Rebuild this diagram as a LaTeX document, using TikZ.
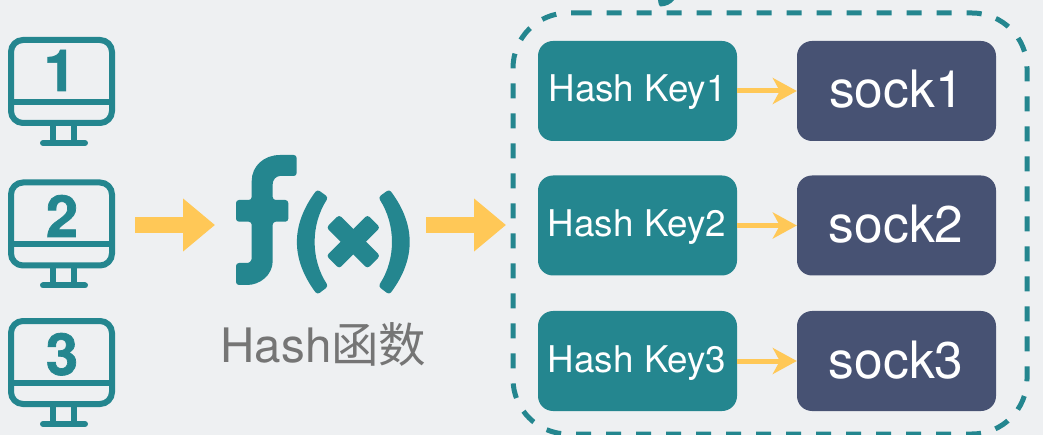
\documentclass[tikz,border=0pt]{standalone}
\usepackage{fontspec}
\setmainfont{TeX Gyre Heros}
\newfontfamily\cjkfont{Noto Sans CJK SC}
\newfontfamily\digitfont[FakeBold=1.2]{TeX Gyre Heros Bold}
\usetikzlibrary{arrows.meta}
\definecolor{bgc}{HTML}{EEF0F2}
\definecolor{tealc}{HTML}{24868F}
\definecolor{navyc}{HTML}{475273}
\definecolor{yellowc}{HTML}{FFC857}
\definecolor{grayc}{HTML}{757575}
\tikzset{
  keybox/.style={draw=none,fill=tealc,rounded corners=15pt,minimum width=199pt,minimum height=100pt,inner sep=0pt,text=white,font=\fontsize{36.8}{38}\selectfont,text height=30pt,text depth=8pt},
  sockbox/.style={draw=none,fill=navyc,rounded corners=15pt,minimum width=199pt,minimum height=100pt,inner sep=0pt,text=white,font=\fontsize{51.5}{53}\selectfont,text height=40pt,text depth=6pt},
  thinarrow/.style={draw=yellowc,line width=5pt,-{Stealth[length=24pt,width=26pt,inset=7pt]}},
  blockarrow/.style={draw=yellowc,line width=16pt,-{Triangle[length=32pt,width=51pt]}},
  monline/.style={draw=tealc,line width=6pt},
  digit/.style={anchor=base,inner sep=0pt,text=tealc,font=\fontsize{58}{60}\selectfont\digitfont},
  glyph/.style={fill=tealc,draw=none,rounded corners=3pt},
  pics/monitor/.style={code={
    \draw[monline,rounded corners=12pt] (11,40) rectangle (112,123);
    \draw[monline] (11,102) -- (112,102);
    \draw[monline] (53,123) -- (53,143);
    \draw[monline] (74,123) -- (74,143);
    \draw[monline,line cap=round] (43,143) -- (85,143);
  }}
}
\begin{document}
\begin{tikzpicture}[x=1pt,y=-1pt]
\useasboundingbox (0,0) rectangle (1043,435);
\clip (0,0) rectangle (1043,435);
\fill[bgc] (0,0) rectangle (1043,435);
% monitors
\pic at (0,0) {monitor};
\pic at (0,142.5) {monitor};
\pic at (0,281) {monitor};
\node[digit] (d1) at (60,91) {1};
\node[digit] (d2) at (62,237) {2};
\node[digit] (d3) at (62,375) {3};
% top fragment
\fill[tealc] (658,0) -- (674,0) .. controls (671,4) and (666,6.5) .. (660,6.5) .. controls (659,5) and (658,3) .. (658,0) -- cycle;
% dashed frame
\draw[draw=tealc,line width=5pt,dash pattern=on 15pt off 15pt]
  (576.7,13) -- (972,13) .. controls (1002.4,13) and (1027,37.6) .. (1027,68)
  -- (1027,379) .. controls (1027,409.4) and (1002.4,434) .. (972,434)
  -- (568,434) .. controls (537.6,434) and (513,409.4) .. (513,379)
  -- (513,68) .. controls (513,37.6) and (537.6,13) .. (568,13) -- (576.7,13);
% f(x)
\fill[glyph] (296.7,155) -- (296.7,176) -- (283,176) .. controls (276,176) and (272.7,180) .. (272.7,187) -- (272.7,200) -- (288.3,200) -- (288.3,221.7) -- (272.7,221.7) -- (272.7,258) .. controls (272.7,275) and (260,285) .. (244,285) -- (236,285) -- (236,263) -- (245,263) .. controls (249,263) and (251.7,261) .. (251.7,256) -- (251.7,221.7) -- (236,221.7) -- (236,200) -- (251.7,200) -- (251.7,184) .. controls (251.7,166) and (264,155) .. (283,155) -- cycle;
\fill[glyph] (317.3,189.3) .. controls (290.7,225) and (290.7,259) .. (317.3,294.7) -- (328.3,286.3) .. controls (310.6,259) and (310.6,225) .. (328.3,197.3) -- cycle;
\fill[glyph] (389.3,189.3) .. controls (415.9,225) and (415.9,259) .. (389.3,294.7) -- (378.3,286.3) .. controls (396,259) and (396,225) .. (378.3,197.3) -- cycle;
\fill[glyph,rotate around={45:(353.3,241.7)}] (324.3,232.7) rectangle (382.3,250.7);
\fill[glyph,rotate around={-45:(353.3,241.7)}] (324.3,232.7) rectangle (382.3,250.7);
\node[anchor=base,inner sep=0pt,text=grayc,font=\fontsize{47.5}{48}\selectfont] (hf) at (323.5,362.7) {Hash{\cjkfont 函数}};
% block arrows
\coordinate (a1s) at (135,225);
\coordinate (a1e) at (215,225);
\coordinate (a2s) at (426,225);
\coordinate (a2e) at (506,225);
\draw[blockarrow] (a1s) -- (a1e);
\draw[blockarrow] (a2s) -- (a2e);
% boxes
\node[keybox] (k1) at (637.5,91) {Hash Key1};
\node[keybox] (k2) at (637.5,225.5) {Hash Key2\hspace*{1pt}};
\node[keybox] (k3) at (637.5,361) {Hash Key3\hspace*{1pt}};
\node[sockbox] (s1) at (896.5,91) {sock1};
\node[sockbox] (s2) at (896.5,225.5) {sock2\hspace*{1pt}};
\node[sockbox] (s3) at (896.5,361) {sock3\hspace*{1pt}};
\draw[thinarrow] (k1) -- (s1);
\draw[thinarrow] (k2) -- (s2);
\draw[thinarrow] (k3) -- (s3);
\end{tikzpicture}
\end{document}
